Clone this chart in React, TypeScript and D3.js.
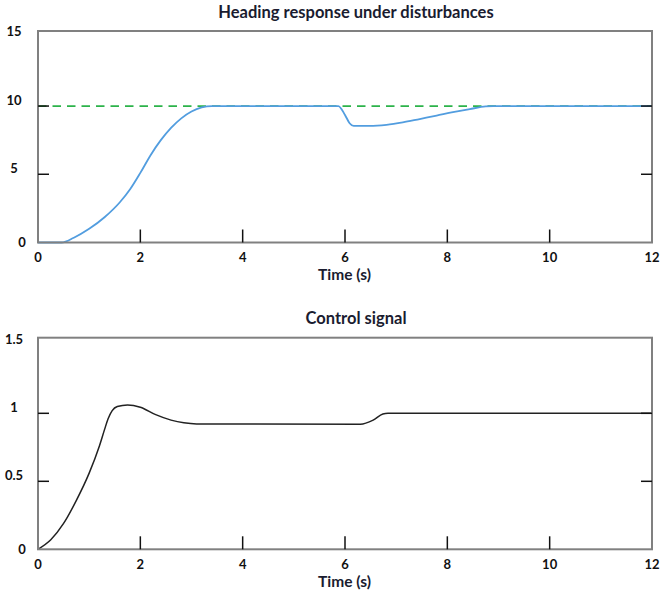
import * as d3 from "d3";

// time axis
const timeTicks = [0, 2, 4, 6, 8, 10, 12];

// heading response (deg) vs time (s)
const headingTime = [0, 0.46, 0.7, 1.0, 1.3, 1.6, 1.8, 2.0, 2.2, 2.4, 2.6, 2.8, 3.0, 3.2, 3.4, 5.87, 6.0, 6.09, 6.17, 6.48, 6.81, 7.13, 7.46, 7.79, 8.11, 8.44, 8.75, 8.9, 12];
const headingValue = [0, 0, 0.35, 1.0, 1.85, 2.95, 3.9, 5.1, 6.4, 7.5, 8.4, 9.1, 9.6, 9.9, 10, 10, 9.35, 8.74, 8.54, 8.54, 8.62, 8.8, 9.05, 9.3, 9.55, 9.78, 9.97, 10, 10];
const setpoint = 10;
const headingTicks = [0, 5, 10, 15];

// control signal vs time (s)
const controlTime = [0, 0.25, 0.5, 0.75, 1.0, 1.2, 1.3, 1.37, 1.45, 1.55, 1.75, 2.0, 2.3, 2.6, 2.85, 3.1, 6.3, 6.55, 6.74, 6.84, 12];
const controlValue = [0, 0.07, 0.19, 0.36, 0.56, 0.76, 0.88, 0.96, 1.02, 1.05, 1.062, 1.045, 0.99, 0.95, 0.93, 0.922, 0.92, 0.95, 0.995, 1.0, 1.0];
const controlTicks = [0, 0.5, 1, 1.5];

const W = 661;
const H = 595;
const FONT = "Lato, 'Open Sans', sans-serif";
const TEXT = "#1a1c30";

type Series = { t: number[]; v: number[]; color: string; width: number; dash?: string };

function Panel({ top, bottom, yMax, yTicks, title, series }: {
  top: number; bottom: number; yMax: number; yTicks: number[]; title: string; series: Series[];
}) {
  const x = d3.scaleLinear().domain([0, 12]).range([38, 652]);
  const y = d3.scaleLinear().domain([0, yMax]).range([bottom, top]);
  const [x0, x1] = x.range();

  return (
    <g>
      <text x={356} y={top - 13.5} textAnchor="middle" fontFamily={FONT} fontWeight="bold" fontSize={16.5} fill={TEXT}>
        {title}
      </text>
      {series.map((s, i) => {
        const pts = s.t.map((t, j) => [t, s.v[j]] as [number, number]);
        const line = d3.line<[number, number]>()
          .x((d) => x(d[0]))
          .y((d) => y(d[1]))
          .curve(d3.curveMonotoneX);
        return (
          <path key={i} d={line(pts) ?? ""} fill="none" stroke={s.color} strokeWidth={s.width}
            strokeDasharray={s.dash} />
        );
      })}
      <rect x={x0} y={top} width={x1 - x0} height={bottom - top} fill="none" stroke="#808080" strokeWidth={2} />
      {timeTicks.filter((t) => t > 0 && t < 12).map((t) => (
        <line key={`xt${t}`} x1={x(t)} x2={x(t)} y1={bottom} y2={bottom - 13} stroke="#111" strokeWidth={1.5} />
      ))}
      {yTicks.filter((v) => v > 0 && v < yTicks[yTicks.length - 1]).map((v) => (
        <g key={`yt${v}`}>
          <line x1={x0} x2={x0 + 11} y1={y(v)} y2={y(v)} stroke="#111" strokeWidth={1.5} />
          <line x1={x1} x2={x1 - 11} y1={y(v)} y2={y(v)} stroke="#111" strokeWidth={1.5} />
        </g>
      ))}
      {timeTicks.map((t) => (
        <text key={`xl${t}`} x={x(t)} y={bottom + 15} dy="0.35em" textAnchor="middle" fontFamily={FONT}
          fontWeight="bold" fontSize={13} fill="#111">
          {t}
        </text>
      ))}
      {yTicks.map((v) => (
        <text key={`yl${v}`} x={v === 0 ? 22 : 14} y={v === 0 ? y(v) : y(v) - 6} dy="0.35em" textAnchor="middle"
          fontFamily={FONT} fontWeight="bold" fontSize={13} fill="#111">
          {v}
        </text>
      ))}
      <text x={344.5} y={bottom + 32.5} dy="0.35em" textAnchor="middle" fontFamily={FONT} fontWeight="bold"
        fontSize={15.5} fill={TEXT}>
        Time (s)
      </text>
    </g>
  );
}

export default function App() {
  return (
    <svg width={W} height={H} style={{ position: "absolute", left: 0, top: 0, background: "#fff" }}>
      <Panel
        top={31}
        bottom={242.5}
        yMax={15.5}
        yTicks={headingTicks}
        title="Heading response under disturbances"
        series={[
          { t: [0, 12], v: [setpoint, setpoint], color: "#2cb34a", width: 1.8, dash: "8.5 6" },
          { t: headingTime, v: headingValue, color: "#529ddf", width: 1.8 },
        ]}
      />
      <Panel
        top={337.7}
        bottom={549.3}
        yMax={1.556}
        yTicks={controlTicks}
        title="Control signal"
        series={[{ t: controlTime, v: controlValue, color: "#222", width: 1.5 }]}
      />
    </svg>
  );
}
